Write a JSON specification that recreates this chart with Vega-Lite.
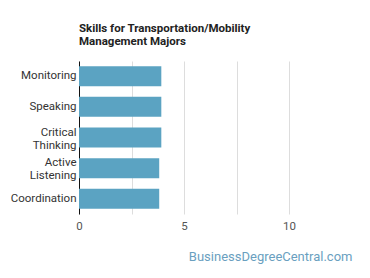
{
  "$schema": "https://vega.github.io/schema/vega-lite/v6.json",
  "width": 273,
  "height": 153,
  "autosize": {"type": "none"},
  "padding": {"left": 79, "top": 61, "right": 18, "bottom": 64},
  "background": "white",
  "title": {
    "text": ["Skills for Transportation/Mobility", "Management Majors"],
    "anchor": "start",
    "frame": "group",
    "font": "Roboto",
    "fontSize": 11.5,
    "fontWeight": "bold",
    "color": "#222222",
    "lineHeight": 13,
    "offset": 14
  },
  "data": {
    "values": [
      {"skill": "Monitoring", "value": 3.92},
      {"skill": "Speaking", "value": 3.92},
      {"skill": "Critical Thinking", "value": 3.92},
      {"skill": "Active Listening", "value": 3.82},
      {"skill": "Coordination", "value": 3.82}
    ]
  },
  "mark": {"type": "bar", "color": "#5ba3c2"},
  "encoding": {
    "y": {
      "field": "skill",
      "type": "nominal",
      "sort": null,
      "scale": {"paddingInner": 0.35, "paddingOuter": 0.17},
      "axis": {
        "title": null,
        "domainColor": "#111111",
        "domainWidth": 1,
        "ticks": false,
        "labelPadding": 3,
        "labelFont": "Roboto",
        "labelFontSize": 11.5,
        "labelColor": "#333333",
        "labelLineHeight": 13,
        "labelOffset": {"condition": {"test": "indexof(datum.value, ' ') >= 0", "value": -5}, "value": 0},
        "labelExpr": "split(datum.label, ' ')"
      }
    },
    "x": {
      "field": "value",
      "type": "quantitative",
      "scale": {"domain": [0, 13], "nice": false},
      "axis": {
        "values": [0, 2.5, 5, 7.5, 10],
        "labelExpr": "datum.value % 5 == 0 ? datum.label : ''",
        "labelFlush": false,
        "domain": false,
        "ticks": false,
        "gridColor": "#dddddd",
        "labelFont": "Roboto",
        "labelFontSize": 11.5,
        "labelColor": "#555555",
        "labelPadding": 6,
        "title": "BusinessDegreeCentral.com",
        "titleAnchor": "end",
        "titleFont": "Roboto",
        "titleFontSize": 13,
        "titleFontWeight": "normal",
        "titleColor": "#6a9fbf",
        "titlePadding": 19
      }
    }
  },
  "config": {"view": {"stroke": null}}
}
